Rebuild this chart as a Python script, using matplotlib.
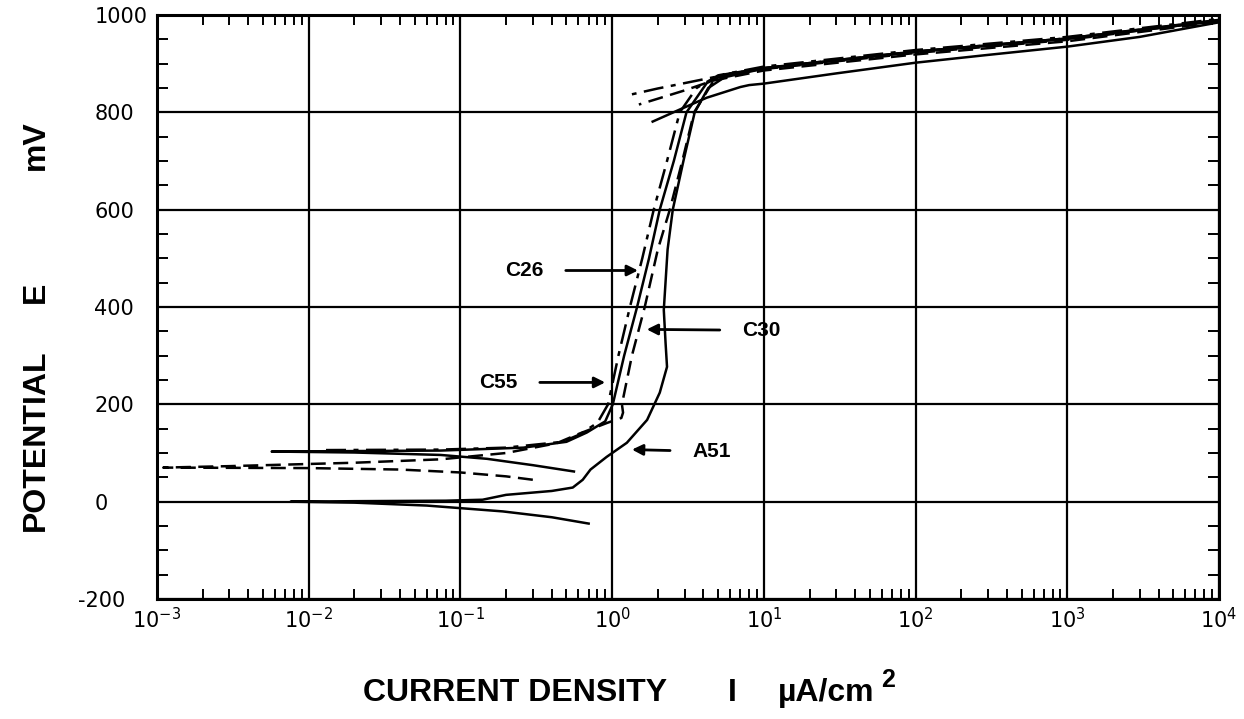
import numpy as np
import matplotlib
matplotlib.use("Agg")
import matplotlib.pyplot as plt
import matplotlib.transforms as mtransforms
from matplotlib.ticker import LogLocator, FixedLocator, NullFormatter

# current density (uA/cm2) and potential (mV)
a51_i = [0.70, 0.40, 0.19, 0.06, 0.02, 0.0076, 0.02, 0.08, 0.14, 0.20, 0.40, 0.55,
         0.64, 0.72, 0.92, 1.25, 1.70, 2.06, 2.30, 2.25, 2.19, 2.32, 2.51, 2.95,
         3.5, 4.3, 5.5, 10, 100, 1000, 10000]
a51_e = [-45, -32, -20, -8, -2, 0, 1, 2, 4, 14, 22, 29,
         45, 66, 92, 121, 168, 224, 277, 326, 394, 518, 600, 700,
         800, 850, 872, 890, 924, 951, 988]
a51_rev_i = [10000, 3000, 1000, 300, 100, 30, 10, 8, 7, 4.2, 2.8, 1.85]
a51_rev_e = [985, 955, 935, 918, 902, 880, 859, 856, 852, 830, 806, 781]

c55_i = [0.56, 0.3, 0.15, 0.074, 0.02, 0.0057, 0.02, 0.074, 0.26, 0.5, 0.68, 0.9,
         1.01, 1.2, 1.46, 1.75, 2.06, 2.55, 3.09, 4.2, 5.5, 10, 100, 1000, 10000]
c55_e = [62, 75, 88, 96, 101, 103, 104, 105, 111, 123, 142, 165,
         200, 300, 400, 500, 600, 700, 800, 860, 878, 891, 925, 952, 990]

c26_i = [0.013, 0.074, 0.2, 0.47, 0.61, 0.8, 0.94, 1.1, 1.31, 1.58, 1.88, 2.3,
         2.79, 3.6, 5.0, 10, 100, 1000, 10000]
c26_e = [106, 107, 111, 123, 138, 162, 200, 300, 400, 500, 600, 700,
         800, 850, 876, 894, 928, 955, 992]
c26_rev_i = [10000, 1000, 100, 10, 5, 3, 2, 1.35]
c26_rev_e = [989, 952, 925, 891, 874, 860, 849, 837]

c30_i = [0.30, 0.2, 0.1, 0.04, 0.01, 0.0011, 0.003, 0.02, 0.074, 0.2, 0.43, 0.61,
         0.93, 1.15, 1.18, 1.16, 1.35, 1.64, 2.0, 2.4, 2.9, 3.47, 4.6, 6, 10,
         100, 1000, 10000]
c30_e = [45, 52, 60, 66, 69, 70, 73, 80, 87, 100, 120, 140,
         162, 172, 183, 200, 300, 400, 518, 600, 700, 800, 862, 880, 889,
         922, 949, 989]
c30_rev_i = [10000, 1000, 100, 10, 4.6, 3, 2, 1.5]
c30_rev_e = [986, 946, 919, 886, 865, 845, 828, 816]

y_ticks = [-200, 0, 200, 400, 600, 800, 1000]
x_ticks = [1e-3, 1e-2, 1e-1, 1e0, 1e1, 1e2, 1e3, 1e4]

fig = plt.figure(figsize=(12.44, 7.19), dpi=100)
ax = fig.add_axes([157 / 1244, 1 - 599 / 719, (1219 - 157) / 1244, (599 - 15) / 719])

dashdot = (0, (8, 3, 2, 3))
dashed = (0, (6, 3))
lw = 1.8
ax.plot(a51_i, a51_e, color="black", lw=lw)
ax.plot(a51_rev_i, a51_rev_e, color="black", lw=lw)
ax.plot(c55_i, c55_e, color="black", lw=lw)
ax.plot(c26_i, c26_e, color="black", lw=lw, linestyle=dashdot)
ax.plot(c26_rev_i, c26_rev_e, color="black", lw=lw, linestyle=dashdot)
ax.plot(c30_i, c30_e, color="black", lw=lw, linestyle=dashed)
ax.plot(c30_rev_i, c30_rev_e, color="black", lw=lw, linestyle=dashed)

ax.set_xscale("log")
ax.set_xlim(1e-3, 1e4)
ax.set_ylim(-200, 1000)

ax.set_xticks(x_ticks)
ax.xaxis.set_minor_locator(LogLocator(base=10, subs=np.arange(2, 10), numticks=20))
ax.xaxis.set_minor_formatter(NullFormatter())
ax.set_yticks(y_ticks)
ax.set_yticklabels([str(v) for v in y_ticks])
ax.yaxis.set_minor_locator(FixedLocator([v for v in range(-150, 1000, 50) if v % 200 != 0]))

ax.grid(True, which="major", color="black", lw=1.6)
ax.tick_params(which="major", length=0, labelsize=15)
ax.tick_params(which="minor", direction="in", length=8, width=1.4,
               top=True, right=True)
ax.tick_params(axis="x", which="minor", length=7)
ax.tick_params(axis="x", which="major", pad=6)
ax.tick_params(axis="y", which="major", pad=45)
for lab in ax.get_yticklabels():
    lab.set_horizontalalignment("left")
    if lab.get_text().startswith("-"):
        # minus sign sticks out to the left like in the original
        lab.set_transform(lab.get_transform() +
                          mtransforms.ScaledTranslation(-16 / 100, 0, fig.dpi_scale_trans))
for s in ax.spines.values():
    s.set_linewidth(2.2)

# labels with arrows
lab_font = dict(fontsize=15, fontweight="bold", family=["Liberation Sans", "DejaVu Sans"])
arrow = dict(arrowstyle="-|>", color="black", lw=2, mutation_scale=16, shrinkA=14, shrinkB=0)
ax.annotate("C26", xy=(1.48, 475), xytext=(0.264, 475), ha="center", va="center",
            arrowprops=arrow, **lab_font)
ax.annotate("C30", xy=(1.69, 354), xytext=(9.6, 352), ha="center", va="center",
            arrowprops=arrow, **lab_font)
ax.annotate("C55", xy=(0.90, 245), xytext=(0.178, 245), ha="center", va="center",
            arrowprops=arrow, **lab_font)
ax.annotate("A51", xy=(1.35, 107), xytext=(4.52, 103), ha="center", va="center",
            arrowprops=arrow, **lab_font)

# axis titles
title_font = dict(fontsize=23, fontweight="bold", family=["Liberation Sans", "DejaVu Sans"])
fig.text(515 / 1244, 1 - 693 / 719, "CURRENT DENSITY", ha="center", va="center", **title_font)
fig.text(732 / 1244, 1 - 693 / 719, "I", ha="center", va="center", **title_font)
fig.text(826 / 1244, 1 - 693 / 719, "\u00b5A/cm", ha="center", va="center", **title_font)
fig.text(888 / 1244, 1 - 680 / 719, "2", ha="center", va="center",
         fontsize=18, fontweight="bold", family=["Liberation Sans", "DejaVu Sans"])

fig.text(36 / 1244, 1 - 440 / 719, "POTENTIAL", rotation=90, ha="center", va="center", **title_font)
fig.text(36 / 1244, 1 - 292 / 719, "E", rotation=90, ha="center", va="center", **title_font)
fig.text(36 / 1244, 1 - 145 / 719, "mV", rotation=90, ha="center", va="center", **title_font)

fig.savefig("out.png", dpi=100)
